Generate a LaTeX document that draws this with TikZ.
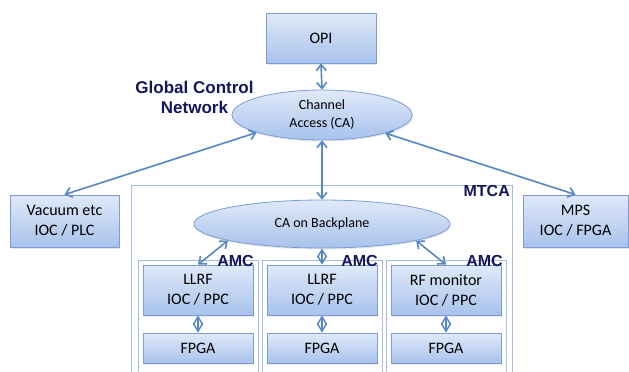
\documentclass[tikz,border=0pt]{standalone}
\usepackage{fontspec}
\setmainfont{Carlito}
\newfontfamily\labelfont{Liberation Sans}
\usetikzlibrary{arrows.meta,shadows,shapes.geometric}
\definecolor{boxtop}{RGB}{224,233,249}
\definecolor{boxbot}{RGB}{168,194,236}
\definecolor{boxline}{RGB}{122,158,212}
\definecolor{arrowc}{RGB}{86,134,196}
\definecolor{framec}{RGB}{165,188,222}
\definecolor{navyc}{RGB}{22,22,92}
\tikzset{
  boxnode/.style={rectangle, draw=boxline, line width=0.8pt, top color=boxtop, bottom color=boxbot,
    align=center, inner sep=0pt, font=\fontsize{16}{20}\selectfont,
    drop shadow={opacity=0.18, shadow xshift=1pt, shadow yshift=-1.5pt}},
  ellnode/.style={ellipse, draw=boxline, line width=0.8pt, top color=boxtop, bottom color=boxbot,
    align=center, inner sep=0pt, font=\fontsize{14}{18}\selectfont,
    drop shadow={opacity=0.18, shadow xshift=1pt, shadow yshift=-1.5pt}},
  framebox/.style={draw=framec, line width=1pt, fill=white},
  tag/.style={font=\labelfont\bfseries\fontsize{16}{18}\selectfont, text=navyc, inner sep=0pt},
  link/.style={draw=arrowc, line width=1.6pt, {Straight Barb[length=6pt,width=10pt]}-{Straight Barb[length=6pt,width=10pt]}},
  shortlink/.style={draw=arrowc, line width=1.4pt, {Straight Barb[length=7.5pt,width=9pt]}-{Straight Barb[length=7.5pt,width=9pt]}}
}
\begin{document}
\begin{tikzpicture}[x=1pt,y=-1pt]
\useasboundingbox (0,0) rectangle (629,372);
\fill[white] (0,0) rectangle (629,372);

% frames
\path[framebox] (131,185) rectangle (512,380);
\node[tag, anchor=north east] (mtca) at (510,185.5) {MTCA};
\path[framebox] (138,260) rectangle (258,380);
\path[framebox] (262,260) rectangle (382,380);
\path[framebox] (386,260) rectangle (506,380);

% top part
\node[boxnode, minimum width=110pt, minimum height=50pt] (opi) at (321,38) {OPI};
\node[ellnode, minimum width=180pt, minimum height=50pt] (ca) at (322,115) {Channel\\Access (CA)};
\node[font=\labelfont\bfseries\fontsize{17}{20}\selectfont, text=navyc, align=center, inner sep=0pt] (gcn) at (194.5,97) {Global Control\\Network};

\node[boxnode, minimum width=109pt, minimum height=52pt] (vac) at (64.5,221) {Vacuum etc\\IOC / PLC};
\node[boxnode, minimum width=105pt, minimum height=52pt] (mps) at (575.5,221) {MPS\\IOC / FPGA};

\node[ellnode, minimum width=256pt, minimum height=48pt] (bp) at (322,224) {CA on Backplane};

% AMC contents
\node[boxnode, minimum width=110pt, minimum height=50pt] (llrfa) at (198,290) {LLRF\\IOC / PPC};
\node[boxnode, minimum width=110pt, minimum height=50pt] (llrfb) at (322,290) {LLRF\\IOC / PPC};
\node[boxnode, minimum width=110pt, minimum height=50pt] (rfm) at (446,290) {RF monitor\\IOC / PPC};
\node[boxnode, minimum width=110pt, minimum height=30pt] (fpgaa) at (198,348) {FPGA};
\node[boxnode, minimum width=110pt, minimum height=30pt] (fpgab) at (322,348) {FPGA};
\node[boxnode, minimum width=110pt, minimum height=30pt] (fpgac) at (446,348) {FPGA};

% connectors
\draw[link] (opi.south) -- (ca.north);
\draw[link] (ca.195) -- (vac.north);
\draw[link] (ca.-16) -- (mps.north);
\draw[link] (ca.south) -- (bp.north);
\draw[link] (bp.190) -- (llrfa.north);
\draw[shortlink] (bp.south) -- (llrfb.north);
\draw[link] (bp.-10) -- (rfm.north);
\draw[shortlink] (llrfa.south) -- (fpgaa.north);
\draw[shortlink] (llrfb.south) -- (fpgab.north);
\draw[shortlink] (rfm.south) -- (fpgac.north);

% AMC labels
\node[tag, anchor=east] (amca) at (254,261) {AMC};
\node[tag, anchor=east] (amcb) at (378,261) {AMC};
\node[tag, anchor=east] (amcc) at (503,261) {AMC};
\end{tikzpicture}
\end{document}
